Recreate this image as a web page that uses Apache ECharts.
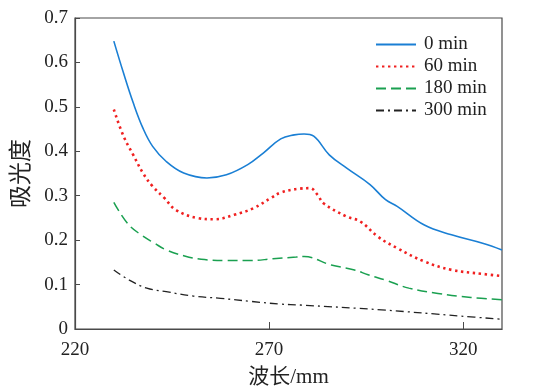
<!DOCTYPE html>
<html><head><meta charset="utf-8">
<script src="https://cdn.jsdelivr.net/npm/echarts@6/dist/echarts.min.js"></script>
<style>html,body{margin:0;padding:0;background:#fff}#c{width:539px;height:391px}</style>
</head><body><div id="c"></div>
<script>
// Data
const seriesNames = ['0 min', '60 min', '180 min', '300 min'];

const wl0 = [230, 232.5, 235, 237.5, 240, 243.5, 248, 254, 259, 264.5, 268.5, 273, 276.5, 279, 281.5, 285.5, 290, 296, 300, 303, 310, 317, 325, 330];
const abs0 = [0.648, 0.576, 0.509, 0.452, 0.411, 0.377, 0.351, 0.340, 0.347, 0.370, 0.396, 0.428, 0.437, 0.439, 0.434, 0.392, 0.362, 0.325, 0.291, 0.276, 0.234, 0.212, 0.193, 0.178];

const wl60 = [230, 232.5, 235, 237.5, 240, 243, 246, 251.5, 256, 261, 266, 270.5, 273, 278, 280.5, 282.5, 284, 290, 293.5, 298, 303, 310, 317, 325, 330];
const abs60 = [0.494, 0.434, 0.392, 0.351, 0.321, 0.295, 0.268, 0.250, 0.247, 0.257, 0.272, 0.295, 0.307, 0.316, 0.317, 0.302, 0.283, 0.253, 0.242, 0.208, 0.182, 0.152, 0.133, 0.124, 0.119];

const wl180 = [230, 233.5, 237, 240.5, 243.5, 248, 252.5, 259, 265, 271, 277, 279, 286, 292, 295.5, 300, 306, 313.5, 322, 330];
const abs180 = [0.285, 0.238, 0.212, 0.193, 0.178, 0.165, 0.157, 0.154, 0.154, 0.158, 0.162, 0.163, 0.144, 0.133, 0.122, 0.110, 0.092, 0.080, 0.071, 0.066];

const wl300 = [230, 234, 238.5, 243.5, 250.5, 257.5, 265.5, 273, 278, 299, 319.5, 330];
const abs300 = [0.133, 0.110, 0.092, 0.084, 0.074, 0.069, 0.062, 0.056, 0.054, 0.043, 0.029, 0.022];

const xTickLabels = [220, 270, 320];
const yTickLabels = [0, 0.1, 0.2, 0.3, 0.4, 0.5, 0.6, 0.7];

function pairs(xs, ys) { return xs.map((x, i) => [x, ys[i]]); }

const serif = "'Liberation Serif', 'Times New Roman', serif";
const cjk = "'Liberation Serif', 'Noto Sans CJK SC', sans-serif";
const axisCol = '#4a4a4a';

const styles = [
  { color: '#1a7fd4', width: 1.6, type: 'solid' },
  { color: '#f02020', width: 2.6, type: [2.4, 3.6] },
  { color: '#1aa050', width: 1.5, type: [10, 5] },
  { color: '#222222', width: 1.3, type: [8, 4, 2, 4] }
];
const datasets = [pairs(wl0, abs0), pairs(wl60, abs60), pairs(wl180, abs180), pairs(wl300, abs300)];

const chart = echarts.init(document.getElementById('c'), null, { renderer: 'canvas' });
chart.setOption({
  animation: false,
  backgroundColor: '#fff',
  grid: { left: 75, right: 37, top: 18, bottom: 62, show: true, borderColor: axisCol, borderWidth: 1.2,
    containLabel: false, outerBoundsMode: 'none' },
  legend: {
    show: true,
    orient: 'vertical', left: 370, top: 30, itemWidth: 40, itemHeight: 14, itemGap: 3,
    itemStyle: { color: 'rgba(0,0,0,0)', borderWidth: 0, opacity: 0 },
    textStyle: { fontFamily: serif, fontSize: 19, color: '#222', padding: [0, 0, 0, 3] },
    data: seriesNames
  },
  xAxis: {
    type: 'value', min: 220, max: 330, interval: 50,
    name: '波长/mm', nameLocation: 'middle', nameGap: 38,
    nameTextStyle: { fontFamily: cjk, fontSize: 21, color: '#222' },
    axisLine: { show: true, lineStyle: { color: axisCol, width: 1.2 } },
    axisTick: { show: true, inside: true, length: 7, lineStyle: { color: axisCol } },
    axisLabel: { fontFamily: serif, fontSize: 19, color: '#222', margin: 12, showMaxLabel: false,
      formatter: v => (xTickLabels.indexOf(v) >= 0 ? String(v) : '') },
    splitLine: { show: false }
  },
  yAxis: {
    type: 'value', min: 0, max: 0.7, interval: 0.1,
    name: '吸光度', nameLocation: 'middle', nameGap: 37, nameRotate: 90,
    nameTextStyle: { fontFamily: cjk, fontSize: 23, color: '#222' },
    axisLine: { show: true, lineStyle: { color: axisCol, width: 1.2 } },
    axisTick: { show: true, inside: true, length: 5, lineStyle: { color: axisCol } },
    axisLabel: { fontFamily: serif, fontSize: 19, color: '#222', margin: 7,
      formatter: v => { const r = Math.round(v * 10) / 10; return yTickLabels.indexOf(r) >= 0 ? String(r) : ''; } },
    splitLine: { show: false }
  },
  series: seriesNames.map((n, i) => ({
    name: n, type: 'line', data: datasets[i], smooth: 0.4, symbol: 'none',
    lineStyle: { color: styles[i].color, width: styles[i].width, type: styles[i].type },
    itemStyle: { color: styles[i].color },
    z: 5 - i
  }))
});
</script></body></html>
